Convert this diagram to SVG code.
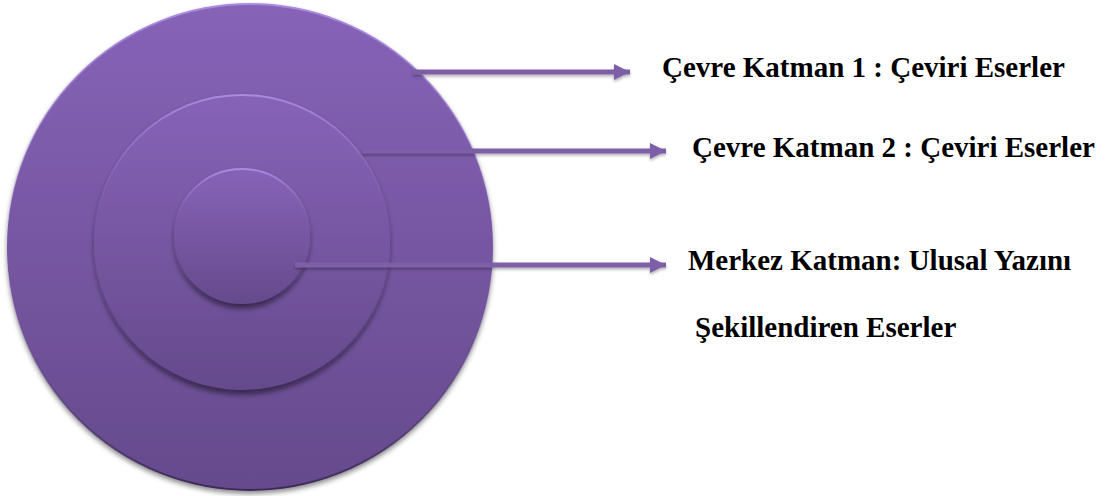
<svg xmlns="http://www.w3.org/2000/svg" width="1107" height="496" viewBox="0 0 1107 496">
<defs>
<linearGradient id="g" x1="0" y1="0" x2="0" y2="1">
<stop offset="0" stop-color="#8763b8"/>
<stop offset="1" stop-color="#654a8c"/>
</linearGradient>
<linearGradient id="rim" x1="0" y1="0" x2="0" y2="1">
<stop offset="0" stop-color="#a88ae0"/>
<stop offset="0.5" stop-color="#7a5aa8" stop-opacity="0"/>
<stop offset="1" stop-color="#3a2a55"/>
</linearGradient>
<filter id="sh" x="-10%" y="-10%" width="120%" height="125%">
<feDropShadow dx="0" dy="3" stdDeviation="2.5" flood-color="#000" flood-opacity="0.45"/>
</filter>
<filter id="ash" filterUnits="userSpaceOnUse" x="0" y="0" width="1107" height="496">
<feDropShadow dx="0" dy="2" stdDeviation="1.5" flood-color="#000" flood-opacity="0.3"/>
</filter>
<marker id="ah" markerWidth="4" markerHeight="4" refX="3.2" refY="2" orient="auto" markerUnits="strokeWidth">
<path d="M0,0.4 L3.2,2 L0,3.6 Z" fill="#7b5ea7"/>
</marker>
<style>
.ring{fill:url(#g);stroke:url(#rim);stroke-width:2;filter:url(#sh)}
.lbl{font-family:"Liberation Serif","Times New Roman",serif;font-weight:bold;font-size:29px;fill:#000}
.con{stroke:#7b5ea7;stroke-width:5;fill:none;marker-end:url(#ah);filter:url(#ash)}
</style>
</defs>
<g id="outer"><circle class="ring" cx="250" cy="247" r="243"/></g>
<g id="middle"><circle class="ring" cx="242" cy="243" r="148"/></g>
<g id="center"><circle class="ring" cx="242" cy="237" r="68"/></g>
<g id="connectors">
<path class="con" d="M413,72 H630"/>
<path class="con" d="M362,151 H666"/>
<path class="con" d="M295,265 H666"/>
</g>
<g id="label1"><text class="lbl" x="662" y="77">Çevre Katman 1 : Çeviri Eserler</text></g>
<g id="label2"><text class="lbl" x="692" y="157">Çevre Katman 2 : Çeviri Eserler</text></g>
<g id="label3"><text class="lbl" x="688" y="270">Merkez Katman: Ulusal Yazını</text>
<text class="lbl" x="695" y="337">Şekillendiren Eserler</text></g>
</svg>
